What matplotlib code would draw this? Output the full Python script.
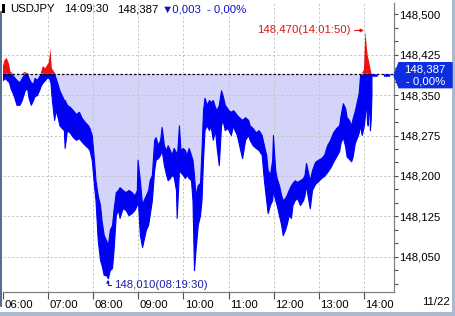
import numpy as np
import matplotlib.pyplot as plt
import matplotlib.transforms as mtransforms
from matplotlib.patches import Rectangle, Polygon
from matplotlib.lines import Line2D

plt.rcParams['font.family'] = ['Liberation Sans', 'DejaVu Sans']
FS = 8.2

# minutes after 06:00, band high / low
minutes = [0, 2, 5, 8, 10, 14, 18, 22, 25, 29, 32, 34, 37, 40, 42, 45, 48, 50, 53, 56,
           58, 61, 63, 65, 68, 70, 73, 75, 78, 81, 82, 85, 89, 93, 97, 101, 105, 109, 113, 115,
           118, 121, 123, 126, 129, 131, 134, 137, 139.5, 142, 145, 147, 150, 153, 155, 159, 163, 167, 171, 175,
           178, 179, 182, 185, 187, 190, 193, 195, 198, 201, 203, 206, 209, 211, 214, 217, 219, 222, 224, 227,
           230, 231, 234, 236, 239, 242, 244, 247, 250, 252, 254, 256, 259, 262, 264, 266, 268, 271, 274, 276,
           279, 282, 284, 287, 290, 292, 295, 298, 300, 303, 306, 308, 311, 314, 318, 322, 326, 328, 332, 336,
           340, 344, 347, 350, 352, 355, 358, 359, 362, 364, 367, 370, 372, 375, 377, 380, 383, 385, 388, 391,
           395, 399, 401, 403, 405, 408, 411, 415, 419, 423, 427, 431, 435, 439, 443, 447, 449, 452, 455, 457,
           460, 463, 465, 468, 471, 473, 475, 477, 480, 482, 483, 484, 485, 487, 488, 489, 490]
high = [148.404, 148.415, 148.419, 148.408, 148.393, 148.385, 148.378, 148.374, 148.382, 148.393,
        148.391, 148.382, 148.374, 148.371, 148.382, 148.378, 148.385, 148.389, 148.404, 148.400,
        148.404, 148.411, 148.436, 148.400, 148.393, 148.382, 148.369, 148.359, 148.350, 148.341,
        148.341, 148.332, 148.328, 148.322, 148.315, 148.319, 148.307, 148.300, 148.294, 148.289,
        148.276, 148.230, 148.192, 148.164, 148.146, 148.118, 148.090, 148.081, 148.072, 148.100,
        148.109, 148.137, 148.170, 148.174, 148.179, 148.174, 148.170, 148.174, 148.170, 148.164,
        148.174, 148.230, 148.192, 148.146, 148.155, 148.164, 148.174, 148.192, 148.202, 148.267,
        148.272, 148.257, 148.267, 148.291, 148.257, 148.248, 148.257, 148.248, 148.239, 148.252,
        148.244, 148.230, 148.294, 148.248, 148.252, 148.248, 148.239, 148.252, 148.239, 148.230,
        148.202, 148.164, 148.183, 148.187, 148.248, 148.322, 148.345, 148.332, 148.341, 148.337,
        148.341, 148.328, 148.322, 148.332, 148.359, 148.350, 148.332, 148.326, 148.322, 148.319,
        148.322, 148.319, 148.313, 148.309, 148.304, 148.309, 148.304, 148.294, 148.289, 148.281,
        148.285, 148.276, 148.257, 148.239, 148.211, 148.202, 148.230, 148.276, 148.211, 148.196,
        148.183, 148.164, 148.155, 148.159, 148.164, 148.174, 148.183, 148.187, 148.192, 148.189,
        148.192, 148.196, 148.202, 148.224, 148.211, 148.192, 148.211, 148.226, 148.230, 148.233,
        148.239, 148.257, 148.267, 148.281, 148.289, 148.294, 148.313, 148.335, 148.326, 148.309,
        148.304, 148.294, 148.307, 148.322, 148.341, 148.354, 148.389, 148.387, 148.397, 148.470,
        148.452, 148.437, 148.424, 148.411, 148.404, 148.397, 148.389]
low = [148.378, 148.382, 148.378, 148.374, 148.363, 148.350, 148.332, 148.332, 148.341, 148.359,
       148.363, 148.345, 148.332, 148.341, 148.348, 148.350, 148.359, 148.367, 148.374, 148.378,
       148.382, 148.382, 148.374, 148.341, 148.304, 148.322, 148.307, 148.294, 148.289, 148.285,
       148.252, 148.285, 148.280, 148.272, 148.267, 148.270, 148.263, 148.257, 148.252, 148.248,
       148.230, 148.183, 148.155, 148.081, 148.044, 148.035, 148.016, 148.016, 148.010, 148.025,
       148.029, 148.062, 148.127, 148.137, 148.122, 148.140, 148.137, 148.127, 148.131, 148.137,
       148.146, 148.164, 148.090, 148.068, 148.081, 148.100, 148.109, 148.127, 148.155, 148.211,
       148.230, 148.233, 148.239, 148.248, 148.220, 148.202, 148.192, 148.196, 148.202, 148.198,
       148.174, 148.122, 148.211, 148.207, 148.202, 148.196, 148.202, 148.196, 148.192, 148.155,
       148.025, 148.062, 148.109, 148.127, 148.155, 148.230, 148.285, 148.294, 148.285, 148.294,
       148.267, 148.285, 148.254, 148.220, 148.294, 148.304, 148.285, 148.289, 148.285, 148.276,
       148.294, 148.285, 148.276, 148.257, 148.233, 148.267, 148.276, 148.267, 148.257, 148.252,
       148.248, 148.239, 148.192, 148.155, 148.131, 148.146, 148.155, 148.174, 148.155, 148.146,
       148.127, 148.109, 148.090, 148.100, 148.109, 148.127, 148.122, 148.146, 148.155, 148.159,
       148.146, 148.155, 148.164, 148.183, 148.164, 148.140, 148.174, 148.185, 148.190, 148.196,
       148.200, 148.207, 148.215, 148.226, 148.236, 148.246, 148.262, 148.272, 148.255, 148.236,
       148.232, 148.227, 148.236, 148.262, 148.272, 148.280, 148.294, 148.276, 148.294, 148.322,
       148.341, 148.304, 148.294, 148.341, 148.285, 148.304, 148.350]

prev_close = 148.390
last_price = 148.387
high_label = '148,470(14:01:50)'
low_label = '148,010(08:19:30)'

hour_ticks = [0, 60, 120, 180, 240, 300, 360, 420, 480]
hour_labels = ['06:00', '07:00', '08:00', '09:00', '10:00', '11:00', '12:00', '13:00', '14:00']
price_ticks = [148.050, 148.125, 148.200, 148.275, 148.350, 148.425, 148.500]
price_labels = ['148,050', '148,125', '148,200', '148,275', '148,350', '148,425', '148,500']

BLUE = '#0000f5'
LAV = '#d4d4fa'
RED = '#f01010'
NAVY = '#2020a8'
GRID = '#c4c4c4'

W, H = 455, 316
fig = plt.figure(figsize=(W / 100, H / 100), dpi=100, facecolor='white')


def fx(px):
    return px / W


def fy(py):
    return 1 - py / H


ax = fig.add_axes([fx(3), fy(292), fx(394) - fx(3), fy(3) - fy(292)])
ax.set_xlim(0, 520)
ax.set_ylim(147.9845, 148.521)

t = np.array(minutes)
hi = np.array(high)
lo = np.array(low)

# grid
for v in price_ticks[:-1]:
    ax.axhline(v, color=GRID, lw=0.7, ls=(0, (2.2, 2.2)), zorder=1.5)
for m in hour_ticks[1:]:
    ax.axvline(m, color=GRID, lw=0.7, ls=(0, (2.2, 2.2)), zorder=1.5)

ax.fill_between(t, np.minimum(hi, prev_close), prev_close, color=LAV, lw=0, zorder=1)
ax.fill_between(t, np.minimum(lo, prev_close), np.minimum(hi, prev_close),
                facecolor=BLUE, edgecolor=BLUE, lw=0.8, zorder=2)
ax.fill_between(t, np.maximum(lo, prev_close), np.maximum(hi, prev_close),
                where=hi > prev_close, interpolate=True, color=RED, lw=0, zorder=2)

ax.axhline(prev_close, color='black', lw=0.9, ls=(0, (2, 1.6)), zorder=3)
ax.plot([t[-1], 520], [last_price, last_price], color=BLUE, lw=1.8, ls=(0, (2.5, 2.5)), zorder=3)

# annotations
ax.annotate(high_label, xy=(t[np.argmax(hi)], hi.max()), xytext=(-15, 0), textcoords='offset pixels',
            ha='right', va='center', color='#d81818', fontsize=FS,
            arrowprops=dict(arrowstyle='-|>', color='#d81818', lw=0.8, mutation_scale=5,
                            relpos=(1, 0.5), shrinkA=1, shrinkB=1))
ax.annotate(low_label, xy=(t[np.argmin(lo)], lo.min()), xytext=(6, -7), textcoords='offset pixels',
            ha='left', va='center', color=NAVY, fontsize=FS,
            arrowprops=dict(arrowstyle='-|>', color=NAVY, lw=0.8, mutation_scale=4,
                            relpos=(0, 0.5), shrinkA=0, shrinkB=1,
                            connectionstyle='angle,angleA=180,angleB=90,rad=0'))

# axes styling
for s in ['left', 'top']:
    ax.spines[s].set_visible(False)
for s in ['right', 'bottom']:
    ax.spines[s].set_color('#808080')
    ax.spines[s].set_linewidth(0.9)

ax.yaxis.tick_right()
ax.set_yticks(price_ticks, price_labels)
ax.set_yticks(np.arange(148.000, 148.52, 0.025), minor=True)
ax.tick_params(axis='y', which='both', direction='out', length=3, width=0.8, color='#505050',
               pad=1, labelsize=FS)
ax.set_xticks(hour_ticks, hour_labels)
ax.tick_params(axis='x', direction='out', length=5, width=0.8, color='#505050', pad=1, labelsize=FS)
shift = mtransforms.ScaledTranslation(1.5 / 100, 0, fig.dpi_scale_trans)
for lbl in ax.get_xticklabels():
    lbl.set_ha('left')
    lbl.set_transform(lbl.get_transform() + shift)

# current price box
fig.canvas.draw()
yc = ax.transData.transform((0, last_price))[1]
pts = np.array([[394, yc], [399, yc + 12.5], [452, yc + 12.5], [452, yc - 12.5], [399, yc - 12.5]])
fig.patches.append(Polygon(pts / [W, H], closed=True, transform=fig.transFigure,
                           facecolor='#0c2ee0', edgecolor='#0c2ee0', zorder=5))
fig.text(425 / W, (yc + 5.5) / H, '148,387', color='white', ha='center', va='center', fontsize=FS, zorder=6)
fig.text(426 / W, (yc - 6) / H, '- 0,00%', color='white', ha='center', va='center', fontsize=FS, zorder=6)

# header
fig.patches.append(Rectangle((fx(2), fy(13)), 2.5 / W, 9 / H, transform=fig.transFigure,
                             facecolor='black', edgecolor='none'))
fig.text(fx(10), fy(9), 'USDJPY', ha='left', va='center', fontsize=FS)
fig.text(fx(64), fy(9), '14:09:30', ha='left', va='center', fontsize=FS)
fig.text(fx(117), fy(9), '148,387', ha='left', va='center', fontsize=FS)
fig.text(fx(162), fy(9), '\u25bc0,003', ha='left', va='center', fontsize=FS, color='#1010c8')
fig.text(fx(207), fy(9), '- 0,00%', ha='left', va='center', fontsize=FS, color='#1010c8')
fig.text(fx(422), fy(302), '11/22', ha='left', va='center', fontsize=FS)

# frame
fig.lines.append(Line2D([fx(1), fx(1)], [fy(12), fy(306)], transform=fig.transFigure,
                        color='#35507f', lw=1.2))
fig.patches.append(Rectangle((0, 0), 1, 4 / H, transform=fig.transFigure,
                             facecolor='#a9b9d0', edgecolor='none'))
fig.patches.append(Rectangle((fx(452), 0), 3 / W, 1, transform=fig.transFigure,
                             facecolor='#a9b9d0', edgecolor='none'))

fig.savefig('out.png', dpi=100)
